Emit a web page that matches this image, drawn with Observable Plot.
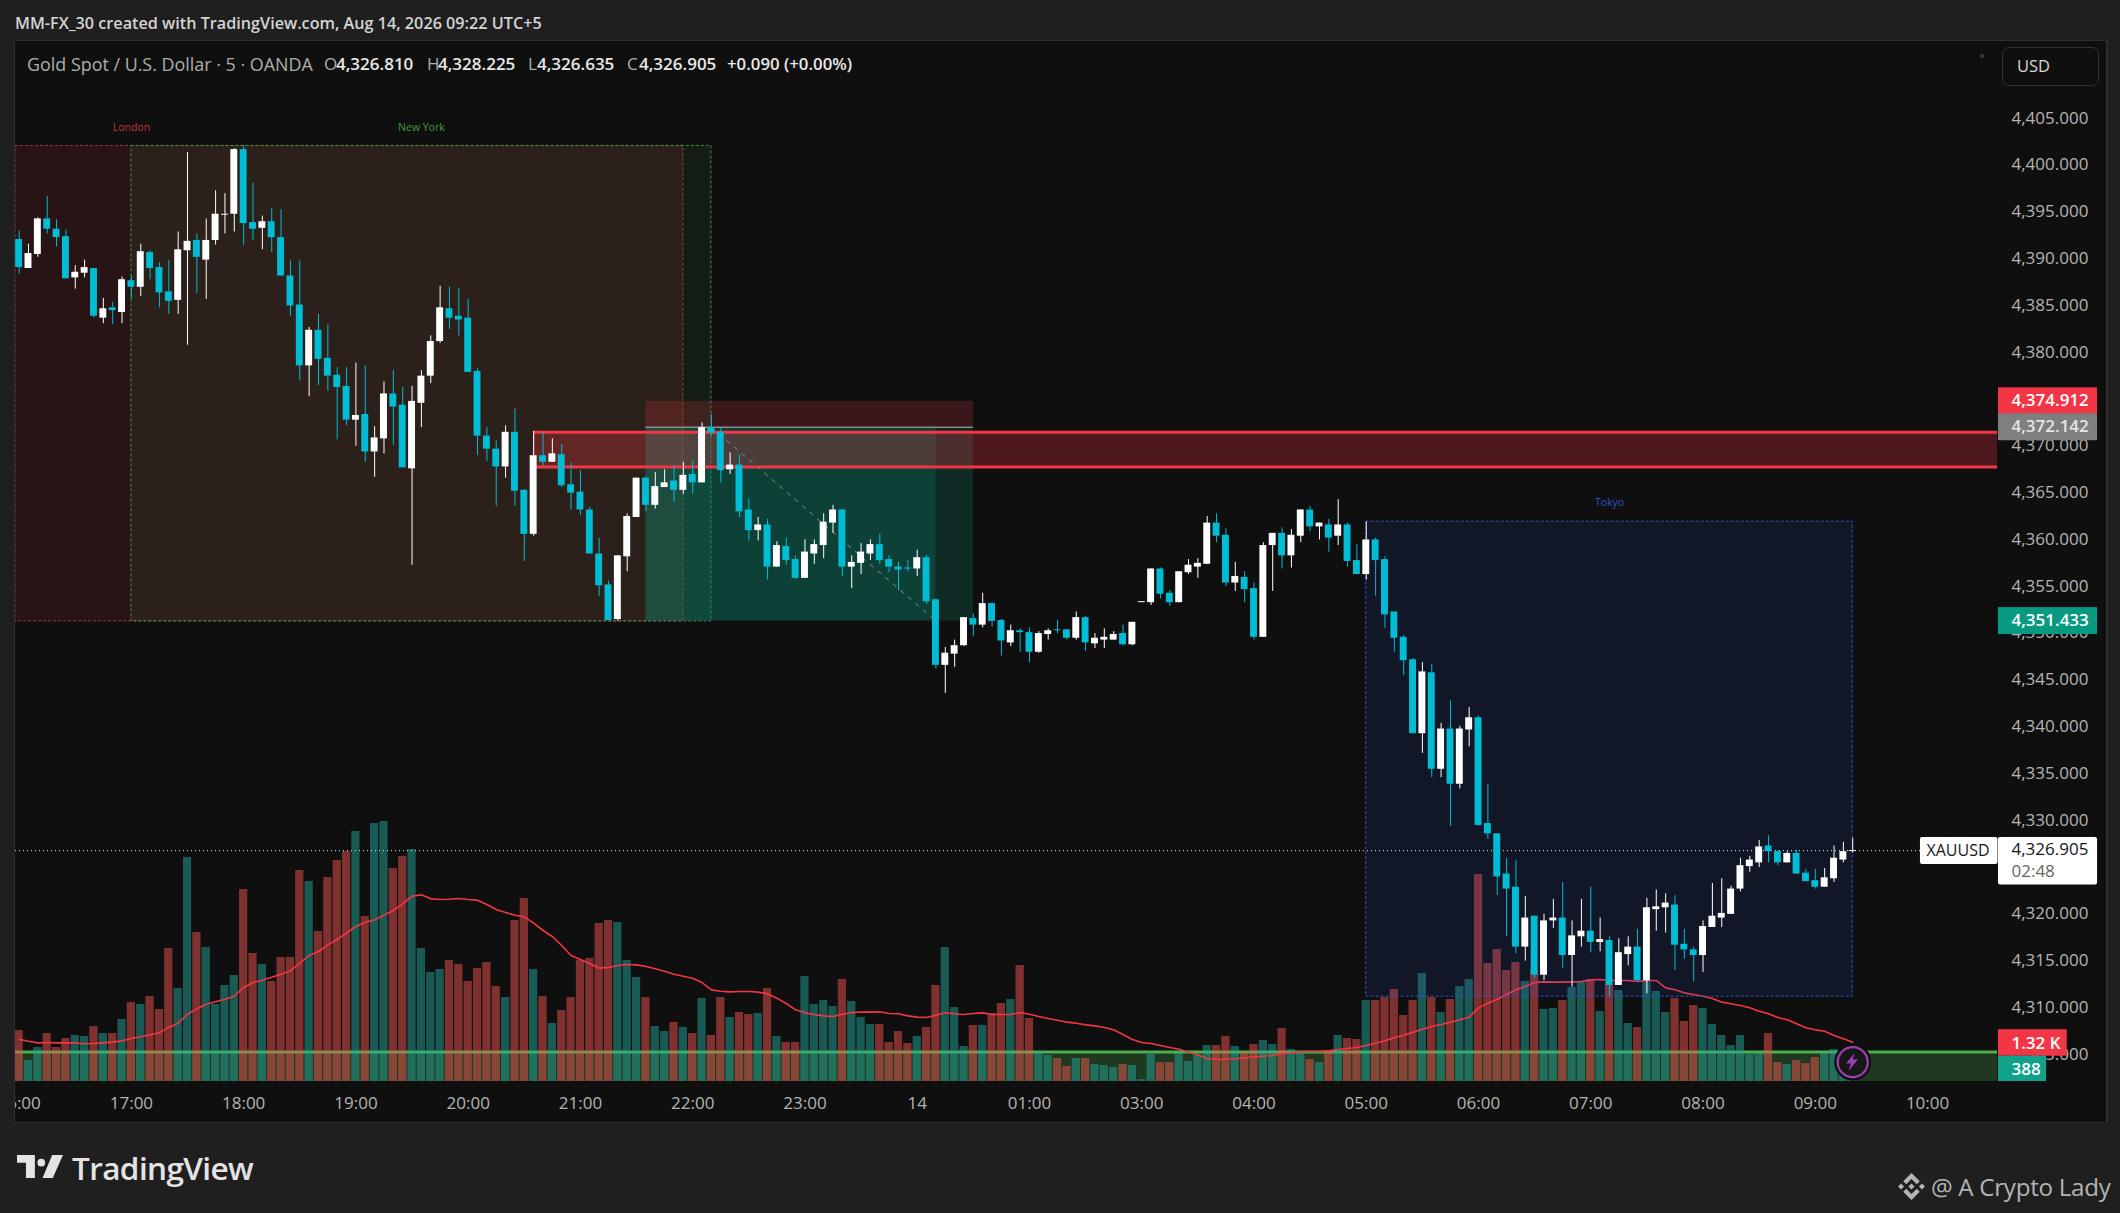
<!DOCTYPE html>
<html><head><meta charset="utf-8">
<script src="https://cdn.jsdelivr.net/npm/d3@7"></script>
<script src="https://cdn.jsdelivr.net/npm/@observablehq/plot@0.6"></script>
<style>
html,body{margin:0;padding:0;background:#1f1f1f;overflow:hidden}
#page{position:relative;width:2120px;height:1213px;background:#1f1f1f;font-family:"Open Sans",sans-serif;overflow:hidden}
#panel{position:absolute;left:14px;top:40px;width:2091px;height:1081px;background:#0f0f0f;border:1.5px solid #2e2e2e;border-right:2px solid #2e2e2e}
.layer{position:absolute;left:15px;top:41px}
.abs{position:absolute;white-space:pre}
</style></head><body>
<div id="page">
<div id="panel"></div>
<div class="abs" style="left:15px;top:11px;font-size:16.2px;font-weight:600;color:#d4d4d4;line-height:24px">MM-FX_30 created with TradingView.com, Aug 14, 2026 09:22 UTC+5</div>
<div id="legend"></div>
<div class="abs" style="left:2002px;top:47px;width:95px;height:37px;border:1.5px solid #333;border-radius:7px;z-index:9"></div>
<div class="abs" style="left:2017px;top:53px;font-size:16.5px;color:#d8d8d8;z-index:9;line-height:26px">USD</div>
<div class="abs" style="left:1980px;top:54px;width:4px;height:4px;background:#333;z-index:9"></div>
<svg class="abs" style="left:17px;top:1155px" width="46" height="23" viewBox="0 0 36 18"><path fill="#e4e4e4" d="M14 18H7V6H0V0h14v18zM28 18h-8l7.5-18H36L28 18zM22 6a3 3 0 1 1-6 0 3 3 0 0 1 6 0z"/></svg>
<div class="abs" style="left:72px;top:1148px;font-size:31.5px;font-weight:600;color:#e4e4e4;line-height:40px;letter-spacing:-.6px">TradingView</div>
<svg class="abs" style="left:1898px;top:1173px" width="27" height="27" viewBox="0 0 126.61 126.61"><path fill="#b4b4b4" d="M38.73 53.2l24.59-24.58 24.6 24.6 14.3-14.31L63.32 0 24.43 38.9zM0 63.31l14.3-14.31 14.31 14.31-14.31 14.3zM38.73 73.41l24.59 24.59 24.6-24.6 14.31 14.29-38.9 38.91-38.91-38.88v-.03zM98 63.31l14.31-14.31 14.3 14.3-14.31 14.32zM77.83 63.3L63.32 48.78 52.59 59.51l-1.24 1.23-2.54 2.54 14.51 14.5 14.51-14.47z"/></svg>
<div class="abs" style="left:1931px;top:1168px;font-size:24.2px;color:#b4b4b4;line-height:38px;letter-spacing:-.3px">@ A Crypto Lady</div>
</div>
<script>
// ---------- values ----------
const priceReadOffset = 0.2; // values below were read with a baseline 0.2 low
const opens = [4392.0,4388.9,4390.4,4394.2,4393.1,4392.3,4387.9,4388.4,4388.9,4383.6,4384.7,4384.2,4387.6,4386.9,4390.6,4389.0,4386.4,4385.5,4390.8,4391.9,4389.8,4391.9,4394.6,4394.7,4401.6,4393.8,4393.2,4393.9,4392.2,4388.1,4385.0,4378.5,4382.3,4379.3,4377.5,4376.3,4372.7,4373.3,4369.3,4370.7,4375.5,4374.3,4367.5,4374.5,4377.4,4381.1,4384.6,4383.8,4383.6,4377.9,4371.0,4369.6,4367.7,4371.4,4365.2,4360.5,4368.9,4368.2,4369.0,4365.8,4365.0,4363.1,4358.4,4355.1,4351.4,4358.1,4362.3,4366.5,4363.6,4365.5,4366.2,4365.2,4366.9,4366.0,4371.9,4371.4,4367.4,4367.9,4363.1,4360.9,4361.5,4357.0,4359.2,4357.8,4355.8,4358.4,4359.3,4361.7,4363.1,4357.0,4357.4,4358.4,4359.4,4357.8,4357.0,4356.9,4356.8,4358.0,4353.5,4346.5,4347.7,4348.6,4351.5,4350.8,4353.1,4351.3,4348.9,4350.2,4350.0,4347.9,4349.8,4350.3,4350.3,4349.4,4351.6,4348.8,4349.2,4349.2,4349.9,4348.7,4353.2,4353.2,4356.8,4354.2,4353.2,4356.4,4357.0,4357.3,4361.7,4360.4,4355.3,4355.9,4354.7,4349.5,4359.3,4360.6,4358.2,4360.3,4363.1,4361.3,4361.5,4360.3,4361.5,4357.7,4356.2,4359.9,4357.8,4352.2,4349.5,4347.1,4339.2,4345.7,4335.4,4339.7,4333.8,4339.6,4340.9,4329.6,4328.5,4324.2,4322.8,4316.4,4319.7,4313.4,4319.2,4319.5,4315.5,4317.5,4318.1,4316.9,4317.1,4312.3,4315.6,4316.4,4312.8,4320.4,4320.6,4320.9,4316.7,4316.1,4315.5,4318.5,4319.5,4319.9,4322.6,4325.0,4325.4,4327.2,4326.6,4325.4,4326.4,4324.3,4323.5,4322.8,4323.7,4325.7,4326.61];
const closes = [4389.0,4390.5,4394.2,4393.1,4392.2,4387.8,4388.5,4389.0,4383.8,4384.6,4384.4,4387.7,4386.9,4390.7,4388.9,4386.3,4385.4,4390.9,4391.8,4390.1,4391.9,4394.7,4394.7,4401.6,4393.7,4393.1,4393.9,4392.2,4388.1,4384.9,4378.5,4382.3,4379.2,4377.4,4376.2,4372.7,4373.2,4369.3,4370.8,4375.5,4374.1,4367.6,4374.7,4377.4,4381.1,4384.7,4383.6,4383.4,4377.8,4371.0,4369.6,4367.7,4371.4,4365.1,4360.5,4368.9,4368.2,4369.1,4365.7,4364.9,4363.1,4358.4,4355.0,4351.3,4358.2,4362.4,4366.5,4363.6,4365.6,4366.0,4365.2,4366.8,4366.0,4371.9,4371.3,4367.3,4367.9,4362.9,4360.9,4361.5,4357.0,4359.3,4357.7,4355.8,4358.6,4359.4,4361.8,4363.1,4357.0,4357.5,4358.6,4359.4,4357.7,4357.0,4356.7,4356.8,4358.0,4353.3,4346.5,4347.8,4348.6,4351.6,4350.8,4353.1,4351.2,4349.1,4350.2,4350.0,4347.9,4349.9,4350.2,4350.2,4349.4,4351.6,4348.9,4349.4,4349.5,4349.8,4348.7,4351.1,4353.3,4356.8,4354.1,4353.2,4356.5,4357.2,4357.4,4361.7,4360.3,4355.3,4356.0,4354.6,4349.5,4359.3,4360.6,4358.2,4360.4,4363.1,4361.3,4361.7,4360.1,4361.5,4357.6,4356.2,4359.9,4357.7,4351.9,4349.4,4347.0,4339.2,4345.8,4335.4,4339.7,4333.8,4339.7,4340.9,4329.4,4328.5,4323.9,4322.6,4316.4,4319.5,4313.4,4319.2,4319.5,4315.5,4317.6,4318.1,4316.9,4317.2,4312.3,4315.8,4316.4,4312.8,4320.6,4320.7,4321.1,4316.6,4316.1,4315.5,4318.6,4319.7,4320.0,4322.6,4325.1,4325.7,4327.1,4326.6,4325.4,4326.4,4324.2,4323.4,4322.8,4323.8,4325.9,4326.6,4326.71];
const highs = [4392.9,4391.5,4394.3,4396.6,4394.1,4393.0,4389.2,4389.8,4388.9,4385.7,4385.3,4388.0,4388.1,4391.5,4390.8,4389.5,4389.8,4392.8,4401.3,4392.6,4394.2,4397.2,4396.9,4401.7,4402.0,4398.0,4394.5,4395.3,4395.2,4389.7,4389.7,4382.6,4384.0,4382.9,4378.3,4378.3,4378.8,4378.5,4372.0,4376.8,4378.0,4376.2,4376.3,4378.0,4381.7,4387.0,4386.9,4386.8,4385.6,4378.2,4371.9,4370.5,4372.1,4373.9,4365.3,4371.5,4371.4,4370.7,4370.1,4368.1,4367.3,4363.4,4360.1,4355.5,4358.2,4362.7,4366.5,4366.7,4367.1,4367.4,4367.8,4368.2,4368.3,4372.4,4373.3,4371.8,4369.2,4369.0,4364.3,4362.3,4362.1,4359.7,4360.1,4358.2,4359.9,4359.9,4362.7,4363.6,4363.1,4358.2,4359.5,4359.9,4360.5,4358.2,4357.5,4357.7,4358.8,4358.2,4353.6,4348.4,4349.2,4351.6,4352.0,4354.2,4353.2,4351.4,4350.8,4350.4,4350.5,4350.1,4350.4,4351.3,4350.3,4352.2,4351.7,4349.9,4350.4,4350.1,4350.8,4351.1,4353.3,4356.8,4356.9,4354.5,4356.5,4357.8,4357.9,4362.4,4362.7,4361.1,4357.5,4356.5,4355.3,4359.6,4360.6,4361.2,4361.0,4363.1,4363.5,4361.7,4362.1,4364.2,4361.7,4359.4,4361.8,4360.1,4358.1,4352.2,4349.7,4347.2,4346.8,4346.6,4340.3,4342.7,4340.0,4342.0,4341.1,4333.8,4328.5,4325.9,4325.6,4321.8,4319.7,4319.9,4321.5,4323.3,4319.2,4321.5,4322.8,4319.5,4317.5,4317.3,4317.5,4318.3,4321.6,4322.5,4322.1,4321.9,4318.3,4316.4,4319.2,4323.2,4323.7,4322.9,4325.9,4326.1,4327.8,4328.3,4326.7,4326.6,4326.7,4324.7,4324.7,4324.8,4327.2,4327.6,4328.03];
const lows = [4388.3,4388.9,4390.1,4392.6,4391.2,4387.8,4386.7,4387.9,4383.6,4383.0,4382.9,4383.0,4385.6,4385.9,4387.7,4384.7,4384.0,4384.0,4380.7,4386.2,4385.6,4391.4,4392.6,4392.8,4391.4,4391.9,4390.9,4390.6,4388.1,4383.8,4376.9,4375.2,4376.4,4375.8,4370.6,4372.1,4369.9,4368.2,4366.6,4369.1,4370.0,4367.6,4357.2,4371.9,4376.6,4380.9,4382.4,4381.7,4377.8,4368.9,4368.3,4363.5,4366.5,4363.5,4357.6,4360.3,4367.8,4368.2,4365.5,4363.1,4362.5,4358.4,4353.9,4351.3,4351.2,4356.5,4362.3,4362.9,4363.2,4365.5,4363.9,4364.8,4364.8,4366.0,4371.0,4366.0,4366.9,4362.3,4359.8,4359.8,4355.6,4357.0,4357.2,4355.7,4355.8,4357.3,4357.9,4360.6,4356.0,4354.7,4356.2,4357.7,4357.3,4356.4,4354.5,4356.5,4356.0,4353.0,4346.1,4343.5,4346.3,4348.5,4349.6,4350.5,4350.6,4347.5,4348.5,4347.9,4346.8,4347.8,4349.2,4349.9,4349.2,4349.2,4348.0,4348.3,4348.3,4349.2,4348.6,4348.6,4353.2,4352.9,4353.6,4352.8,4353.2,4356.2,4355.8,4357.3,4359.6,4354.9,4354.4,4353.2,4349.2,4349.5,4354.4,4356.8,4356.9,4359.6,4360.8,4359.9,4358.6,4359.3,4357.0,4356.2,4355.6,4353.9,4350.4,4347.9,4345.4,4339.2,4337.1,4334.5,4334.5,4329.3,4333.3,4337.8,4329.3,4327.9,4321.9,4317.5,4315.7,4314.9,4313.1,4312.8,4318.4,4314.1,4312.1,4316.4,4315.8,4315.9,4311.1,4312.3,4314.4,4312.7,4311.4,4318.1,4317.9,4313.9,4315.1,4312.7,4313.7,4318.5,4318.5,4319.9,4322.3,4324.4,4324.9,4325.4,4325.1,4325.4,4324.2,4323.4,4322.6,4322.8,4323.3,4325.4,4326.44];
const volumes = [1714,706,1142,1613,1142,1445,1546,1512,1848,1613,1613,2083,2654,2587,2856,2419,4469,3125,7526,5006,4502,2587,3226,3562,6451,4301,3931,3360,4166,4166,7090,6720,5040,6854,7426,7728,8400,5544,8669,8736,7157,7560,7795,4469,3662,3763,4066,3931,3360,3797,3998,3192,2822,5410,6149,3763,2856,1949,2386,2822,4066,4133,5309,5410,5342,4066,3494,2822,1848,1680,1982,1814,1613,2789,1546,2822,2150,2318,2251,2285,3125,1512,1310,1310,3528,2587,2722,2520,3427,2688,2150,1915,1915,1310,1680,1277,1512,1814,3226,4502,2486,1176,1882,1882,2285,2621,2755,3898,2117,963,874,773,504,773,773,571,538,470,571,538,67,907,638,638,941,672,874,1210,1210,1512,1176,974,1243,1378,1243,1781,1075,941,739,638,1042,1546,1445,1411,2722,2722,2822,3091,2218,2722,3629,2822,2318,2755,3192,3427,6955,3965,4435,3730,3998,3360,3730,2419,2453,2722,3158,3360,3427,2352,3259,3058,1949,1814,3360,3024,2318,2789,2016,2554,2453,1915,1546,1210,1546,907,941,1613,638,571,706,605,806,941,1075,400,388];
const volumeMA = [1422,1355,1299,1310,1299,1299,1299,1266,1277,1299,1322,1366,1445,1501,1568,1635,1826,1960,2262,2442,2598,2677,2766,2867,3158,3326,3405,3506,3606,3718,3976,4234,4368,4592,4771,4995,5208,5354,5432,5589,5746,5970,6227,6272,6138,6115,6126,6149,6115,6093,5947,5779,5678,5589,5533,5320,5074,4872,4570,4234,4099,3965,3808,3830,3898,3931,3920,3864,3786,3707,3606,3539,3472,3326,3080,3035,3013,3024,3024,3002,2946,2800,2621,2408,2307,2251,2206,2184,2262,2318,2330,2330,2341,2285,2274,2206,2162,2150,2229,2307,2274,2251,2285,2307,2251,2251,2251,2318,2262,2184,2117,2061,1994,1960,1904,1870,1814,1736,1579,1411,1310,1277,1210,1142,1086,986,896,762,739,750,762,795,829,851,874,941,963,997,1008,1008,1030,1075,1109,1142,1210,1288,1366,1467,1557,1658,1758,1848,1915,1994,2072,2162,2475,2632,2766,2923,3080,3192,3326,3349,3338,3338,3349,3360,3416,3427,3394,3394,3394,3360,3394,3394,3147,3080,2979,2923,2867,2789,2666,2610,2554,2475,2363,2274,2150,2072,1938,1803,1736,1691,1546,1434,1320];
const priceTicks = d3.range(4305, 4406, 5);
const timeTickBars = [0,12,24,36,48,60,72,84,96,108,120,132,144,156,168,180,192,204];
const timeTickLabels = ["16:00","17:00","18:00","19:00","20:00","21:00","22:00","23:00","14","01:00","03:00","04:00","05:00","06:00","07:00","08:00","09:00","10:00"];
const sessionNames = ["London","New York","Tokyo"];
const sessionStart = [-0.39,12,144];
const sessionEnd = [71,74,196];
const sessionHigh = [4402.2,4402.2,4362.05];
const sessionLow = [4351.4,4351.4,4311.3];
const sessionLabelBar = [12,43,170];
const sessionLabelPrice = [4404.2,4404.2,4364.1];
const lastPrice = 4326.905, stopPrice = 4374.912, entryPrice = 4372.142, targetPrice = 4351.433;
const fvgHigh = 4371.6, fvgLow = 4367.9, fvgStart = 55, plotEnd = 211.48;
const zoneHigh = 4305.4, zoneLow = 4302.24;
const toolStart = 67, toolEnd = 102, toolNow = 98;
const lastVolume = 388, lastMA = 1320;

// ---------- scales shared by the layers ----------
const W = 2090, H = 1081;
const xScale = {domain: [-0.389, 223.02], range: [0, W], axis: null};
const yPrice = {domain: [4413.355, 4297.86], range: [0, H], axis: null};
const yVolume = {domain: [0, 34946], range: [1040, 0], axis: null};
const font = '"Open Sans",sans-serif';
const mount = (marks, y, extra = {}) => {
  const svg = Plot.plot({width: W, height: H, margin: 0, x: xScale, y, marks,
    style: {background: "transparent", overflow: "hidden", fontFamily: font}, ...extra});
  svg.setAttribute("class", "layer");
  svg.style.position = "absolute"; svg.style.left = "15px"; svg.style.top = "41px";
  document.getElementById("page").appendChild(svg);
};
const candles = opens.map((o, i) => ({i, o: o + priceReadOffset, c: closes[i] + priceReadOffset,
  h: highs[i] + priceReadOffset, l: lows[i] + priceReadOffset, v: volumes[i], ma: volumeMA[i], up: closes[i] >= o}));
const sessions = sessionNames.map((name, k) => ({name, x1: sessionStart[k], x2: sessionEnd[k], y1: sessionLow[k], y2: sessionHigh[k], lx: sessionLabelBar[k], ly: sessionLabelPrice[k]}));
const sessionFill = {London: "#f23645", "New York": "#4caf50", Tokyo: "#2962ff"};
const sessionOpacity = {London: 0.11, "New York": 0.09, Tokyo: 0.1};
const sessionStroke = {London: "#a0353d", "New York": "#3f8f44", Tokyo: "#2f52c8"};
const sessionText = {London: "#c5303c", "New York": "#3f9a44", Tokyo: "#2f55cc"};

// legend (real text)
const legendParts = [
  [27, "Gold Spot / U.S. Dollar · 5 · OANDA", "#aeaeae", 400, 17.9],
  [324, "O", "#aeaeae", 400, 17],[336, "4,326.810", "#e8e8e8", 600, 17],
  [427, "H", "#aeaeae", 400, 17],[438, "4,328.225", "#e8e8e8", 600, 17],
  [528, "L", "#aeaeae", 400, 17],[537, "4,326.635", "#e8e8e8", 600, 17],
  [627, "C", "#aeaeae", 400, 17],[639, "4,326.905", "#e8e8e8", 600, 17],
  [727, "+0.090 (+0.00%)", "#e8e8e8", 600, 16.8]];
document.getElementById("legend").innerHTML = legendParts.map(([x, t, c, w, s]) =>
  `<div class="abs" style="left:${x}px;top:51px;font-size:${s}px;line-height:26px;color:${c};font-weight:${w};z-index:9">${t}</div>`).join("");

// ---------- layer 1: green zone, under the volume ----------
mount([
  Plot.rect([0], {x1: -0.39, x2: plotEnd, y1: zoneLow, y2: zoneHigh, fill: "#4caf50", fillOpacity: 0.27}),
  Plot.ruleY([zoneHigh], {x1: -0.39, x2: plotEnd, stroke: "#4caf50", strokeWidth: 3})
], yPrice);

// ---------- layer 2: volume ----------
mount([
  Plot.rect(candles, {x1: d => d.i - 0.44, x2: d => d.i + 0.44, y1: 0, y2: "v",
    fill: d => d.up ? "#26a69a" : "#ef5350", fillOpacity: 0.5}),
  Plot.line(candles, {x: "i", y: "ma", stroke: "#f23645", strokeWidth: 1.6})
], yVolume);

// ---------- layer 3: price ----------
const labelX1 = 211.58, labelX2 = 222.17, labelTextX = 212.97;
const lbl = (v, fill, txt, txtFill, weight = 600) => [
  Plot.rect([v], {x1: labelX1, x2: labelX2, y1: v - 1.44, y2: v + 1.44, fill}),
  Plot.text([txt], {x: labelTextX, y: v, dy: -0.5, text: d => d, textAnchor: "start", fill: txtFill, fontSize: 17, fontWeight: weight})
];
mount([
  Plot.rect(sessions.filter(s => s.name !== "Tokyo"), {x1: "x1", x2: "x2", y1: "y1", y2: "y2",
    fill: d => sessionFill[d.name], fillOpacity: d => sessionOpacity[d.name],
    stroke: d => sessionStroke[d.name], strokeDasharray: "3,2", strokeWidth: 1}),
  Plot.rect(sessions.filter(s => s.name === "Tokyo"), {x1: "x1", x2: "x2", y1: "y1", y2: "y2",
    fill: "#2962ff", fillOpacity: 0.1, stroke: "#2f52c8", strokeDasharray: "3,2", strokeWidth: 1}),
  Plot.text(sessions, {x: "lx", y: "ly", text: "name", fill: d => sessionText[d.name], fontSize: 10.5}),
  // position tool
  Plot.rect([0], {x1: toolStart, x2: toolEnd, y1: entryPrice, y2: stopPrice, fill: "#f23645", fillOpacity: 0.2}),
  Plot.rect([0], {x1: toolStart, x2: toolEnd, y1: targetPrice, y2: entryPrice, fill: "#089981", fillOpacity: 0.2}),
  Plot.rect([0], {x1: toolStart, x2: toolNow, y1: targetPrice, y2: entryPrice, fill: "#089981", fillOpacity: 0.2}),
  Plot.ruleY([entryPrice], {x1: toolStart, x2: toolEnd, stroke: "#8a8a8a", strokeWidth: 1.5}),
  // supply zone
  Plot.rect([0], {x1: fvgStart, x2: plotEnd, y1: fvgLow, y2: fvgHigh, fill: "#f23645", fillOpacity: 0.28}),
  Plot.ruleY([fvgHigh, fvgLow], {x1: fvgStart, x2: plotEnd, stroke: "#f23645", strokeWidth: 3}),
  Plot.ruleX([fvgStart], {y1: fvgLow, y2: fvgHigh, stroke: "#f23645", strokeWidth: 1}),
  Plot.line([[74, entryPrice], [98, targetPrice]], {x: d => d[0], y: d => d[1], stroke: "#8a8a8a", strokeWidth: 1, strokeDasharray: "4,6"}),
  // last price line
  Plot.ruleY([lastPrice], {x1: -0.39, x2: 203.24, stroke: "#ececec", strokeWidth: 1, strokeDasharray: "1,3"}),
  // candles
  Plot.ruleX(candles, {x: "i", y1: "l", y2: "h", stroke: d => d.up ? "#ffffff" : "#00bcd4", strokeWidth: 1}),
  Plot.rect(candles, {x1: d => d.i - 0.37, x2: d => d.i + 0.37, y1: "o", y2: "c", fill: d => d.up ? "#ffffff" : "#00bcd4"}),
  // axes
  Plot.axisY(priceTicks, {anchor: "left", tickSize: 0, tickPadding: 0, dx: 1996, dy: -1.5, textAnchor: "start",
    tickFormat: d3.format(",.3f"), fill: "#b4b4b4", fontSize: 17, label: null}),
  Plot.axisX(timeTickBars, {anchor: "bottom", tickSize: 0, tickPadding: 0, lineAnchor: "middle", dy: -19.3,
    tickFormat: d => timeTickLabels[timeTickBars.indexOf(d)], fill: "#b4b4b4", fontSize: 17, label: null}),
  // price labels
  ...lbl(stopPrice, "#f23645", "4,374.912", "#ffffff"),
  ...lbl(entryPrice, "#7f7f7f", "4,372.142", "#e6e6e6"),
  ...lbl(targetPrice, "#089981", "4,351.433", "#ffffff"),
  Plot.rect([0], {x1: 203.24, x2: labelX1 - 0.05, y1: lastPrice - 1.47, y2: lastPrice + 1.41, fill: "#ffffff", rx: 2}),
  Plot.text(["XAUUSD"], {x: 203.88, y: lastPrice, text: d => d, textAnchor: "start", fill: "#131722", fontSize: 16}),
  Plot.rect([0], {x1: labelX1, x2: labelX2, y1: lastPrice - 3.66, y2: lastPrice + 1.41, fill: "#ffffff", rx: 2}),
  Plot.text(["4,326.905"], {x: labelTextX, y: lastPrice, dy: -1, text: d => d, textAnchor: "start", fill: "#131722", fontSize: 17}),
  Plot.text(["02:48"], {x: labelTextX, y: lastPrice - 2.22, text: d => d, textAnchor: "start", fill: "#666666", fontSize: 17})
], yPrice);

// ---------- layer 4: volume labels ----------
mount([
  Plot.rect([0], {x1: labelX1, x2: 218.93, y1: lastMA - 470, y2: lastMA + 420, fill: "#f23645"}),
  Plot.text(["1.32 K"], {x: labelTextX, y: lastMA - 30, text: d => d, textAnchor: "start", fill: "#ffffff", fontSize: 17, fontWeight: 600}),
  Plot.rect([0], {x1: labelX1, x2: 216.72, y1: 0, y2: lastMA - 470, fill: "#12a28c"}),
  Plot.text([String(lastVolume)], {x: labelTextX, y: 410, text: d => d, textAnchor: "start", fill: "#ffffff", fontSize: 17, fontWeight: 600}),
  Plot.dot([0], {x: 196, y: 650, r: 17.5, fill: "#171717", stroke: "#0f0f0f", strokeWidth: 2}),
  Plot.dot([0], {x: 196, y: 650, r: 15, fill: "none", stroke: "#9c3fb0", strokeWidth: 2.2})
], yVolume);
</script>
<svg style="position:absolute;left:1841px;top:1051px;z-index:10" width="22" height="22" viewBox="0 0 22 22"><path fill="#9c3fb0" d="M13.5 2 L5 12.5 L10 12.5 L7.5 20 L17 8.5 L11.8 8.5 Z"/></svg>
</body></html>
